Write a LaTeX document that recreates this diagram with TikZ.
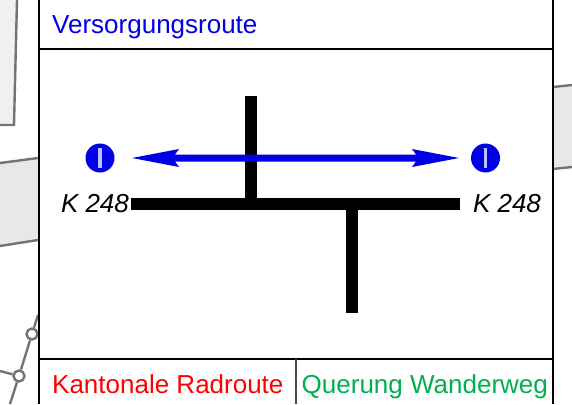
\documentclass[tikz,border=0pt]{standalone}
\usepackage{fontspec}
\setmainfont{Liberation Sans}
\definecolor{routeblue}{RGB}{0,0,230}
\definecolor{wandergreen}{RGB}{0,176,80}
\begin{document}
\begin{tikzpicture}[x=1pt,y=-1pt,
  mapline/.style={draw=black!55,line width=2.4pt},
  maparea/.style={fill=black!9},
  frameline/.style={draw=black,line width=2pt},
  road/.style={draw=black,line width=12pt},
  dot/.style={circle,fill=routeblue,inner sep=0pt,minimum size=29pt},
  lbl/.style={font=\fontsize{26}{26}\selectfont,inner sep=0pt,anchor=base west},
  klbl/.style={font=\fontsize{26}{26}\selectfont\itshape,inner sep=0pt,anchor=base west},
  junction/.style={circle,draw=black!55,fill=white,line width=2.4pt,inner sep=0pt,minimum size=11pt}]
\useasboundingbox (0,0) rectangle (572,404);
% map background
\fill[black!6] (0,0) -- (17,0) -- (14,125) -- (0,125) -- cycle;
\draw[mapline] (17,0) -- (14,125) -- (0,125);
\fill[maparea] (0,163) -- (38,158) -- (38,240) -- (0,246) -- cycle;
\draw[mapline] (0,163) -- (38,158);
\draw[mapline] (0,246) -- (38,240);
\fill[maparea] (553,87) -- (572,85) -- (572,167) -- (553,169) -- cycle;
\draw[mapline] (553,87) -- (572,85);
\draw[mapline] (553,169) -- (572,167);
\node[junction] (j1) at (32,334) {};
\node[junction] (j2) at (19,376) {};
\coordinate (n1) at (38,315);
\coordinate (n2) at (10,404);
\coordinate (n3) at (0,371);
\draw[mapline] (n1) -- (j1);
\draw[mapline] (j1) -- (j2);
\draw[mapline] (j2) -- (n2);
\draw[mapline] (j2) -- (n3);
% panel
\fill[white] (38.5,0) rectangle (552.5,404);
\coordinate (tl) at (38.5,0);
\coordinate (tr) at (552.5,0);
\coordinate (bl) at (38.5,404);
\coordinate (br) at (552.5,404);
\coordinate (h1l) at (38.5,49.5);
\coordinate (h1r) at (552.5,49.5);
\coordinate (h2l) at (38.5,358.5);
\coordinate (h2r) at (552.5,358.5);
\coordinate (vt) at (296,358.5);
\coordinate (vb) at (296,404);
\draw[frameline] (tl) -- (bl);
\draw[frameline] (tr) -- (br);
\draw[frameline] (h1l) -- (h1r);
\draw[frameline] (h2l) -- (h2r);
\draw[frameline,draw=black!70] (vt) -- (vb);
% roads
\coordinate (ra) at (131,204);
\coordinate (rb) at (460,204);
\coordinate (rc) at (251,96);
\coordinate (rd) at (251,204);
\coordinate (re) at (351.5,204);
\coordinate (rf) at (351.5,313);
\draw[road] (ra) -- (rb);
\draw[road] (rc) -- (rd);
\draw[road] (re) -- (rf);
% route
\node[dot] (dl) at (100,158) {};
\node[dot] (dr) at (485.5,158) {};
\fill[white!75!blue] (98.2,148) rectangle (101.8,168);
\fill[white!75!blue] (483.7,148) rectangle (487.3,168);
\coordinate (al) at (132,158);
\coordinate (ar) at (459,158);
\fill[routeblue] (al) -- (179,149) -- (175,154.5) -- (416,154.5) -- (412,149) -- (ar) -- (412,167) -- (416,161.5) -- (175,161.5) -- (179,167) -- cycle;
% labels
\node[lbl,text=routeblue] (t1) at (52,33.5) {Versorgungsroute};
\node[lbl,text=red] (t2) at (52,393) {Kantonale Radroute};
\node[lbl,text=wandergreen] (t3) at (301.5,393) {Querung Wanderweg};
\node[klbl] (k1) at (61,212.5) {K\hspace{7pt}248};
\node[klbl] (k2) at (473,212.5) {K\hspace{7pt}248};
\end{tikzpicture}
\end{document}
